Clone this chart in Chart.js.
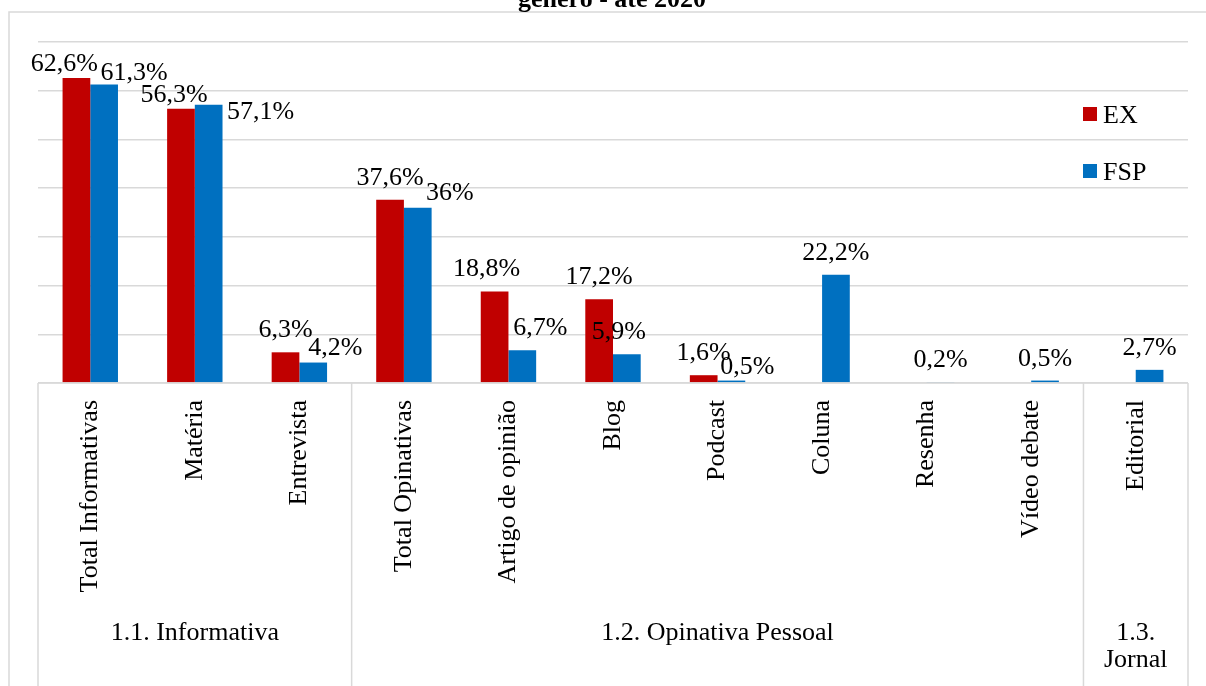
<!DOCTYPE html>
<html>
<head>
<meta charset="utf-8">
<script src="https://cdn.jsdelivr.net/npm/chart.js@4.4.1/dist/chart.umd.min.js"></script>
<style>
  html, body { margin: 0; padding: 0; background: #fff; }
  #wrap { width: 1206px; height: 686px; }
</style>
</head>
<body>
<div id="wrap"><canvas id="chart" width="1206" height="686"></canvas></div>
<script>
const categories = ['Total Informativas', 'Matéria', 'Entrevista', 'Total Opinativas', 'Artigo de opinião',
  'Blog', 'Podcast', 'Coluna', 'Resenha', 'Vídeo debate', 'Editorial'];
const exValues = [62.6, 56.3, 6.3, 37.6, 18.8, 17.2, 1.6, null, null, null, null];
const fspValues = [61.3, 57.1, 4.2, 36, 6.7, 5.9, 0.5, 22.2, 0.2, 0.5, 2.7];
const groupLabels = ['1.1. Informativa', '1.2. Opinativa Pessoal', ['1.3.', 'Jornal']];
const groupSizes = [3, 7, 1];
const titleText = 'gênero - até 2020';

const FONT = '"Liberation Serif", "Times New Roman", serif';
const GRID = '#d9d9d9';

// small manual nudges for labels that Excel had moved off the bars [dx, dy]
const nudges = {
  '0-0': [-12, 8], '1-0': [30, 11], '0-1': [-7, 8], '1-1': [52, 29],
  '1-2': [22, 7], '1-3': [32, 7], '0-4': [-8, 0], '1-4': [18, 0],
  '1-5': [-8, 0], '1-6': [16, 8]
};

const fmt = v => String(v).replace('.', ',') + '%';

const framePlugin = {
  id: 'frame',
  beforeDraw(chart) {
    const ctx = chart.ctx;
    ctx.save();
    ctx.fillStyle = '#fff';
    ctx.fillRect(0, 0, chart.width, chart.height);
    ctx.strokeStyle = GRID;
    ctx.lineWidth = 1.5;
    ctx.beginPath();
    ctx.moveTo(9, chart.height);
    ctx.lineTo(9, 12);
    ctx.lineTo(chart.width, 12);
    ctx.stroke();
    ctx.fillStyle = '#000';
    ctx.font = 'bold 26px ' + FONT;
    ctx.textAlign = 'center';
    ctx.textBaseline = 'alphabetic';
    ctx.fillText(titleText, 612, 7);
    ctx.restore();
  },
  afterDraw(chart) {
    const ctx = chart.ctx;
    const x = chart.scales.x;
    const top = chart.chartArea.bottom;
    const bottom = chart.height;
    const step = (x.right - x.left) / categories.length;
    ctx.save();
    ctx.strokeStyle = GRID;
    ctx.lineWidth = 1.5;
    ctx.beginPath();
    ctx.moveTo(x.left, top);
    ctx.lineTo(x.right, top);
    let idx = 0;
    const edges = [x.left];
    groupSizes.forEach(n => { idx += n; edges.push(x.left + idx * step); });
    edges.forEach(px => { ctx.moveTo(px, top); ctx.lineTo(px, bottom); });
    ctx.stroke();

    ctx.fillStyle = '#000';
    ctx.font = '26px ' + FONT;
    ctx.textAlign = 'center';
    ctx.textBaseline = 'middle';
    groupLabels.forEach((lab, i) => {
      const cx = (edges[i] + edges[i + 1]) / 2;
      const lines = Array.isArray(lab) ? lab : [lab];
      lines.forEach((l, k) => ctx.fillText(l, cx, 633 + k * 27));
    });

    // legend
    ctx.textAlign = 'left';
    ctx.textBaseline = 'alphabetic';
    chart.data.datasets.forEach((ds, i) => {
      const y = 107 + i * 57;
      ctx.fillStyle = ds.backgroundColor;
      ctx.fillRect(1083, y, 14, 14);
      ctx.fillStyle = '#000';
      ctx.fillText(ds.label, 1103, y + 16);
    });

    // data labels
    ctx.font = '26px ' + FONT;
    ctx.textAlign = 'center';
    chart.data.datasets.forEach((ds, di) => {
      const meta = chart.getDatasetMeta(di);
      meta.data.forEach((bar, i) => {
        const v = ds.data[i];
        if (v === null || v === undefined) return;
        const n = nudges[di + '-' + i] || [0, 0];
        ctx.fillText(fmt(v), bar.x + n[0], bar.y - 15 + n[1]);
      });
    });
    ctx.restore();
  }
};

new Chart(document.getElementById('chart'), {
  type: 'bar',
  data: {
    labels: categories,
    datasets: [
      { label: 'EX', data: exValues, backgroundColor: '#c00000' },
      { label: 'FSP', data: fspValues, backgroundColor: '#0070c0' }
    ]
  },
  options: {
    responsive: false,
    devicePixelRatio: 1,
    animation: false,
    categoryPercentage: 0.53,
    barPercentage: 1,
    layout: { padding: { left: 38, right: 18, top: 42, bottom: 0 } },
    plugins: {
      legend: { display: false },
      title: { display: false },
      tooltip: { enabled: false }
    },
    scales: {
      x: {
        grid: { display: false, drawTicks: false },
        border: { display: false },
        ticks: {
          autoSkip: false,
          minRotation: 90,
          maxRotation: 90,
          padding: 17,
          color: '#000',
          font: { family: FONT, size: 26 }
        },
        afterFit(scale) { scale.height = 303; }
      },
      y: {
        min: 0,
        max: 70,
        grid: { color: GRID, lineWidth: 1.5, drawTicks: false },
        border: { display: false },
        ticks: { display: false, stepSize: 10 },
        afterFit(scale) { scale.width = 0; }
      }
    }
  },
  plugins: [framePlugin]
});
</script>
</body>
</html>
